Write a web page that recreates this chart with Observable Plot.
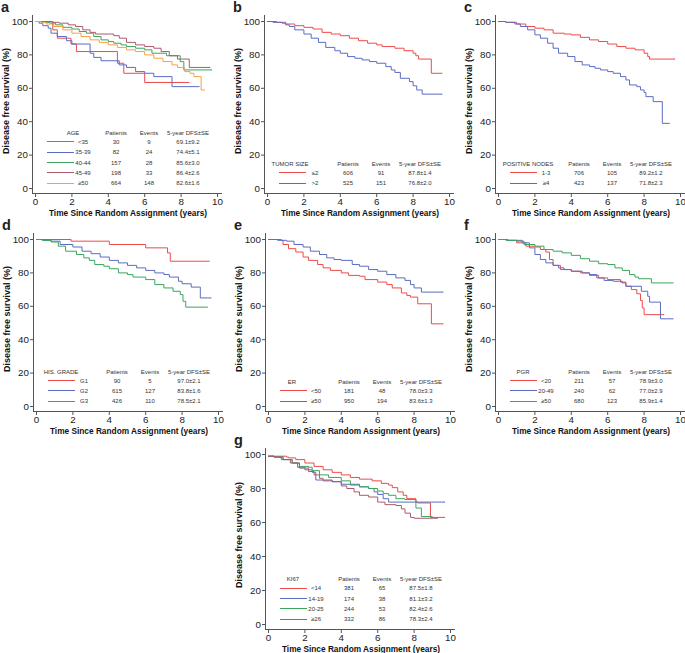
<!DOCTYPE html>
<html>
<head>
<meta charset="utf-8">
<script src="https://cdn.jsdelivr.net/npm/d3@7"></script>
<script src="https://cdn.jsdelivr.net/npm/@observablehq/plot@0.6"></script>
<style>
  html, body { margin: 0; padding: 0; background: #fff; }
  #page { position: relative; width: 685px; height: 653px; overflow: hidden; background: #fff;
          font-family: "Liberation Sans", Arial, Helvetica, sans-serif; color: #222; }
  .panel { position: absolute; }
  .panel svg { position: absolute; left: 0; top: 0; }
  .letter { position: absolute; font-weight: bold; font-size: 14.5px; line-height: 1.1; }
  .t { position: absolute; white-space: nowrap; transform: translate(-50%, -50%); line-height: 1; }
  .xt { font-weight: bold; font-size: 8.3px; color: #111; }
  .yt { font-weight: bold; font-size: 9px; color: #111; transform: translate(-50%, -50%) rotate(-90deg); }
  .lg { font-size: 6px; color: #333; }
  .lgline { position: absolute; height: 1px; }
</style>
</head>
<body>
<div id="page"></div>
<script>
// ---------- data ----------
const xTicks = [0, 2, 4, 6, 8, 10];
const yTicks = [0, 20, 40, 60, 80, 100];
const xTitle = "Time Since Random Assignment (years)";
const yTitle = "Disease free survival (%)";
const legendHeaders = ["Patients", "Events", "5-year DFS±SE"];

// a: AGE
const ageGroups = ["<35", "35-39", "40-44", "45-49", "≥50"];
const agePatients = [30, 82, 157, 198, 664];
const ageEvents = [9, 24, 28, 33, 148];
const ageDFS = ["69.1±9.2", "74.4±5.1", "85.6±3.0", "86.4±2.6", "82.6±1.6"];
const ageLt35 = [[0,100],[0.95,95],[1.2,90],[1.95,86.5],[2.25,82],[4.5,75],[4.85,69],[6.0,63.5],[8.45,63.5]];
const age35_39 = [[0,100],[0.2,99],[0.4,97.5],[0.7,96],[0.85,93],[1.2,91],[1.7,88.5],[2.0,86.5],[3.0,81],[3.2,78.5],[3.6,76.5],[4.6,74],[5.0,72.5],[5.5,70],[6.0,69],[6.5,67],[7.5,61],[9.0,61]];
const age40_44 = [[0,100],[0.5,99.5],[0.8,99],[1.1,98],[1.5,96.5],[2.0,95.5],[2.4,94],[2.8,93],[3.2,91],[3.6,89],[4.0,88],[4.3,87],[4.7,86],[5.0,85],[5.5,84],[6.0,83],[6.4,81],[7.2,79.5],[7.95,76],[8.15,71],[9.7,71]];
const age45_49 = [[0,100],[0.9,99.5],[1.3,99],[1.8,98],[2.2,97],[2.6,95],[3.0,93.5],[3.3,92.5],[4.3,91.5],[4.6,90],[5.0,87.5],[5.5,86],[6.0,85],[6.5,84],[6.9,82],[7.35,79.5],[7.8,77.5],[8.45,72.5],[9.6,72.5]];
const ageGe50 = [[0,100],[0.3,99.5],[0.6,98.5],[1.0,97],[1.5,95],[2.0,93],[2.5,91],[3.0,89],[3.5,87.5],[4.0,86],[4.5,84.5],[5.0,83],[5.5,82],[6.0,80],[6.5,78],[7.0,76],[7.5,74],[7.8,72.5],[8.2,70],[8.5,69],[8.7,67],[9.1,59],[9.3,59]];

// b: TUMOR SIZE
const sizeGroups = ["≤2", ">2"];
const sizePatients = [606, 525];
const sizeEvents = [91, 151];
const sizeDFS = ["87.8±1.4", "76.8±2.0"];
const sizeLe2 = [[0,100],[0.5,99.5],[1.0,98.5],[1.5,97.5],[2.0,96.5],[2.5,95.5],[3.0,93.5],[3.5,92.5],[4.0,91.5],[4.5,90],[5.0,88.5],[5.5,87],[6.0,86],[6.3,85],[7.0,84],[7.5,82.5],[8.0,81],[8.15,79.5],[8.3,77.5],[9.0,69],[9.6,69]];
const sizeGt2 = [[0,100],[0.3,99.5],[0.8,99],[1.0,98],[1.2,97],[1.5,95],[2.0,92.5],[2.4,90],[2.8,87.5],[3.2,84.5],[3.7,82.5],[4.0,81],[4.4,79],[4.8,78],[5.2,77],[5.6,76],[6.0,75],[6.5,73],[6.8,71],[7.0,69.5],[7.3,66],[7.8,64],[8.0,61.5],[8.2,59],[8.5,56.5],[9.6,56.5]];

// c: POSITIVE NODES
const nodeGroups = ["1-3", "≥4"];
const nodePatients = [706, 423];
const nodeEvents = [105, 137];
const nodeDFS = ["89.2±1.2", "71.8±2.3"];
const node1_3 = [[0,100],[0.4,99.5],[1.0,98.5],[1.5,97],[2.0,96],[2.5,95],[3.0,93],[3.6,92.5],[4.0,92],[4.5,90.5],[5.0,89],[5.5,88],[6.0,86.5],[6.5,85],[7.0,84],[7.5,83],[8.0,81],[8.2,79],[8.3,77.5],[9.7,77.5]];
const nodeGe4 = [[0,100],[0.4,99.5],[0.9,98.5],[1.2,97],[1.6,95],[2.0,92],[2.3,90],[2.7,87],[3.0,84],[3.3,81],[3.8,79],[4.2,76],[4.6,74],[5.0,73],[5.3,72],[5.6,71],[6.0,70],[6.3,69],[6.7,67],[7.0,65],[7.2,62],[7.6,61],[7.8,59],[8.0,57.5],[8.1,55],[8.5,52],[9.0,39],[9.4,39]];

// d: HIS. GRADE
const gradeGroups = ["G1", "G2", "G3"];
const gradePatients = [90, 615, 426];
const gradeEvents = [5, 127, 110];
const gradeDFS = ["97.0±2.1", "83.8±1.6", "78.5±2.1"];
const gradeG1 = [[0,100],[1.9,99],[4.0,97],[6.0,95],[7.2,92],[7.35,87],[9.5,87]];
const gradeG2 = [[0,100],[0.4,99.5],[0.8,99],[1.3,97],[2.0,95.5],[2.5,93],[3.0,91.5],[3.5,89.5],[4.0,87.5],[4.5,86],[5.0,84.5],[5.5,83],[6.0,81.5],[6.5,80],[7.0,79],[7.3,77.5],[7.8,75],[8.0,73.5],[8.5,71.5],[9.0,65],[9.6,65]];
const gradeG3 = [[0,100],[0.3,99.5],[0.8,98.5],[1.2,96],[1.6,93],[2.2,91],[2.6,89],[2.9,87.5],[3.2,85],[3.7,84],[4.0,82.5],[4.5,80],[5.0,79],[5.3,77.5],[6.0,76],[6.5,73],[7.0,71],[7.5,69],[7.9,67],[8.05,63],[8.2,59.5],[9.4,59.5]];

// e: ER
const erGroups = ["<50", "≥50"];
const erPatients = [181, 950];
const erEvents = [48, 194];
const erDFS = ["78.0±3.3", "83.6±1.3"];
const erLt50 = [[0,100],[0.7,99.5],[0.8,97],[1.1,94.5],[1.5,92.5],[1.9,89.5],[2.2,87.5],[2.7,85],[3.0,83],[3.4,81.5],[4.0,80],[4.4,78.5],[5.0,78],[5.3,76],[6.0,74.5],[6.5,73],[6.8,71],[7.3,68],[7.6,66.5],[7.8,65.5],[8.2,61.5],[8.95,49.5],[9.6,49.5]];
const erGe50 = [[0,100],[0.5,99.5],[1.0,99],[1.4,97],[1.9,95.5],[2.3,93],[2.8,91],[3.2,89],[3.6,88],[4.0,87.5],[4.6,85],[5.0,84],[5.5,82],[6.0,81],[6.5,79],[7.0,77],[7.5,75.5],[7.8,73],[8.0,71],[8.4,68.5],[9.6,68.5]];

// f: PGR
const pgrGroups = ["<20", "20-49", "≥50"];
const pgrPatients = [211, 240, 680];
const pgrEvents = [57, 62, 123];
const pgrDFS = ["78.9±3.0", "77.0±2.9", "85.9±1.4"];
const pgrLt20 = [[0,100],[0.5,99.5],[1.0,98],[1.5,96],[2.0,95.5],[2.3,94],[2.6,92.5],[2.8,88],[3.0,84.5],[3.4,82],[4.0,81],[4.5,80],[5.0,78.5],[5.5,77],[6.0,76],[6.7,74.5],[7.0,72],[7.3,70],[7.6,67.5],[7.8,63.5],[7.9,59],[8.0,55],[9.1,55]];
const pgr20_49 = [[0,100],[0.5,99.5],[1.3,98],[1.7,95],[2.0,91],[2.3,88],[2.6,86],[3.0,84.5],[3.3,83],[3.6,82],[4.0,81],[4.6,80],[5.0,79],[5.4,77],[5.8,75.5],[6.3,75],[6.8,74],[7.0,72],[7.85,69],[8.2,66],[8.3,62.5],[8.9,52.5],[9.6,52.5]];
const pgrGe50 = [[0,100],[0.4,99.5],[1.0,99],[1.4,97],[2.0,96],[2.5,94],[3.0,93],[3.5,92],[4.0,90.5],[4.5,88.5],[5.0,87],[5.5,85.5],[6.0,85],[6.4,83],[6.8,81.5],[7.2,79],[7.5,77.5],[7.7,76.5],[8.4,74],[9.6,74]];

// g: KI67
const kiGroups = ["<14", "14-19", "20-25", "≥26"];
const kiPatients = [381, 174, 244, 332];
const kiEvents = [65, 38, 53, 86];
const kiDFS = ["87.5±1.8", "81.1±3.2", "82.4±2.6", "78.3±2.4"];
const kiLt14 = [[0,99],[1.0,98.5],[1.1,98],[1.5,97],[2.0,95],[2.5,93],[3.0,91],[3.5,89.5],[4.0,88],[4.5,86.5],[5.0,85.5],[5.7,84.5],[6.2,83],[6.6,82],[6.8,80.5],[7.1,78],[7.4,76],[7.6,74],[8.1,72],[8.2,71.5],[8.9,63],[9.7,63]];
const ki14_19 = [[0,99],[0.3,98.5],[0.8,97],[1.3,95],[1.6,92.5],[2.0,91],[2.4,89.5],[2.6,85],[3.5,84],[4.0,82.5],[5.0,81],[5.5,80],[5.8,78],[6.0,76.5],[6.3,74],[6.6,72],[9.7,72]];
const ki20_25 = [[0,99],[0.3,98.5],[0.8,97],[1.3,95],[1.7,93],[2.2,92.5],[2.4,90.5],[2.8,88],[3.3,86.5],[4.0,84.5],[4.5,82],[5.0,81],[5.5,80],[6.0,78.5],[6.3,77],[6.6,76],[7.0,74],[7.5,73.5],[8.1,68.5],[8.4,63.5],[9.0,63.5]];
const kiGe26 = [[0,99],[0.3,98.5],[0.7,97],[1.2,95],[1.7,92],[2.2,90],[2.5,88],[2.8,86],[3.0,84.5],[3.5,84],[4.0,81.5],[4.3,80],[4.7,78],[5.0,76],[5.5,75],[6.0,72],[6.4,70.5],[7.0,70],[7.3,68],[7.5,65.5],[7.8,63],[8.0,62.5],[9.3,62.5]];

// ---------- styling / layout ----------
const palette = ["#ef4a4a", "#5b6dc2", "#3ba55e", "#ab5a6a", "#f5a145"];

const panels = [
  {letter: "a", title: "AGE", groups: ageGroups, patients: agePatients, events: ageEvents, dfs: ageDFS,
   curves: [ageLt35, age35_39, age40_44, age45_49, ageGe50], left: 0, top: 0, h: 218, titleDx: 38},
  {letter: "b", title: "TUMOR SIZE", groups: sizeGroups, patients: sizePatients, events: sizeEvents, dfs: sizeDFS,
   curves: [sizeLe2, sizeGt2], left: 232, top: 0, h: 218, titleDx: 23},
  {letter: "c", title: "POSITIVE  NODES", groups: nodeGroups, patients: nodePatients, events: nodeEvents, dfs: nodeDFS,
   curves: [node1_3, nodeGe4], left: 463, top: 0, h: 218, titleDx: 30},
  {letter: "d", title: "HIS. GRADE", groups: gradeGroups, patients: gradePatients, events: gradeEvents, dfs: gradeDFS,
   curves: [gradeG1, gradeG2, gradeG3], left: 1, top: 218, h: 218, titleDx: 25},
  {letter: "e", title: "ER", groups: erGroups, patients: erPatients, events: erEvents, dfs: erDFS,
   curves: [erLt50, erGe50], left: 233, top: 218, h: 218, titleDx: 24},
  {letter: "f", title: "PGR", groups: pgrGroups, patients: pgrPatients, events: pgrEvents, dfs: pgrDFS,
   curves: [pgrLt20, pgr20_49, pgrGe50], left: 463, top: 218, h: 218, titleDx: 25},
  {letter: "g", title: "KI67", groups: kiGroups, patients: kiPatients, events: kiEvents, dfs: kiDFS,
   curves: [kiLt14, ki14_19, ki20_25, kiGe26], left: 233, top: 433, h: 221, titleDx: 25}
];

const page = document.getElementById("page");

function addText(parent, cls, text, x, y) {
  const d = document.createElement("div");
  d.className = "t " + cls;
  d.textContent = text;
  d.style.left = x + "px";
  d.style.top = y + "px";
  parent.appendChild(d);
  return d;
}

for (const p of panels) {
  const wrap = document.createElement("div");
  wrap.className = "panel";
  wrap.style.left = p.left + "px";
  wrap.style.top = p.top + "px";
  wrap.style.width = "228px";
  wrap.style.height = p.h + "px";
  page.appendChild(wrap);

  const lines = p.curves.map((c, i) =>
    Plot.line(c, {x: d => d[0], y: d => d[1], stroke: palette[i], strokeWidth: 1, curve: "step-after"}));

  const chart = Plot.plot({
    width: 228, height: p.h,
    marginLeft: 32, marginRight: 7, marginTop: 15, marginBottom: 25,
    insetLeft: 3, insetRight: 4, insetTop: 6, insetBottom: 5,
    x: {domain: [0, 10]},
    y: {domain: [0, 100]},
    style: {fontFamily: "'Liberation Sans', Arial, sans-serif", fontSize: "9.8px", color: "#222", background: "transparent", overflow: "visible"},
    marks: [
      Plot.frame({anchor: "left", stroke: "#555"}),
      Plot.frame({anchor: "bottom", stroke: "#555"}),
      Plot.axisX({ticks: xTicks, tickSize: 4, tickPadding: 1, label: null, stroke: "#555"}),
      Plot.axisY({ticks: yTicks, tickSize: 3, tickPadding: 1.5, label: null, stroke: "#555"}),
      ...lines
    ]
  });
  wrap.appendChild(chart);

  const sx = chart.scale("x"), sy = chart.scale("y");
  const x0 = sx.apply(0), x10 = sx.apply(10);
  const y0 = sy.apply(0), y100 = sy.apply(100);

  // axis titles
  addText(wrap, "xt", xTitle, (x0 + x10) / 2 + 2, p.h - 5.5);
  addText(wrap, "yt", yTitle, 5.5, (y0 + y100) / 2 - 4);

  // panel letter
  const L = document.createElement("div");
  L.className = "letter";
  L.textContent = p.letter;
  L.style.left = "1px";
  L.style.top = "0px";
  wrap.appendChild(L);

  // legend table
  const n = p.groups.length;
  const rowGap = 10.4;
  const lastY = y0 - 4.7;
  const rowY = i => lastY - (n - 1 - i) * rowGap;
  const headY = rowY(0) - 9;
  const cols = [x0 + 81, x0 + 114, x0 + 153];
  addText(wrap, "lg", p.title, x0 + p.titleDx, headY);
  legendHeaders.forEach((h, j) => addText(wrap, "lg", h, cols[j], headY));
  p.groups.forEach((g, i) => {
    const y = rowY(i);
    const ln = document.createElement("div");
    ln.className = "lgline";
    ln.style.left = (x0 + 12) + "px";
    ln.style.width = "27px";
    ln.style.top = (y - 0.5) + "px";
    ln.style.background = palette[i];
    wrap.appendChild(ln);
    addText(wrap, "lg", g, x0 + 48, y);
    addText(wrap, "lg", String(p.patients[i]), cols[0], y);
    addText(wrap, "lg", String(p.events[i]), cols[1], y);
    addText(wrap, "lg", p.dfs[i], cols[2], y);
  });
}
</script>
</body>
</html>
